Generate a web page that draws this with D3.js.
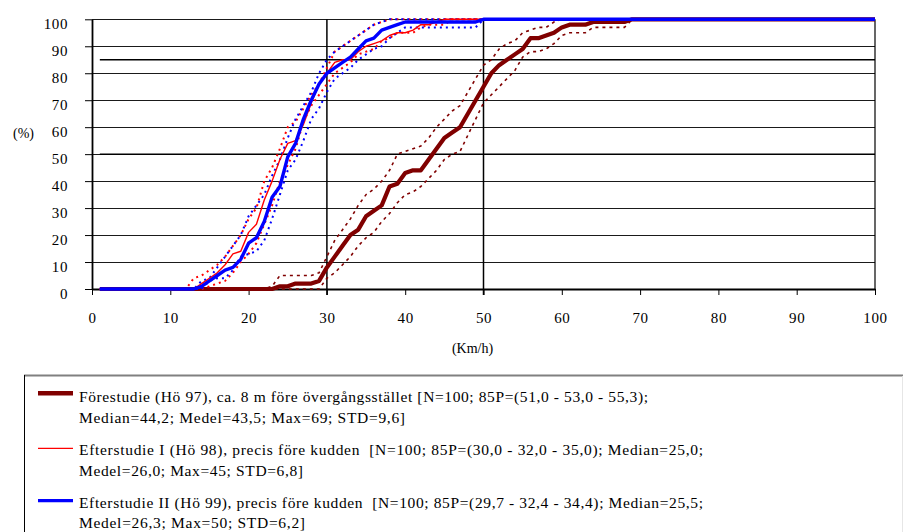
<!DOCTYPE html>
<html>
<head>
<meta charset="utf-8">
<script src="https://cdn.jsdelivr.net/npm/d3@7/dist/d3.min.js"></script>
<style>
  html, body { margin: 0; padding: 0; background: #fff; }
  svg { display: block; font-family: "Liberation Serif", "DejaVu Serif", serif; }
  text { fill: #000; }
</style>
</head>
<body>
<svg id="chart" width="903" height="532"></svg>
<script>
// ---------- data ----------
const speeds = [1,12,13,14,15,16,17,18,19,20,21,22,23,24,25,26,27,28,29,30,31,32,33,34,35,36,37,38,39,40,41,42,43,44,45,46,47,48,49,50,51,52,53,54,55,56,57,58,59,60,61,62,63,64,65,66,67,68,69,70,100];

// Förestudie (Hö 97)
const fore   = [0, 0,0,0,0,0,0,0,0,0,0,0,0, 1,1,2,2,2,3,8,12,16,20, 22,27,29,31,38,39,43,44,44,48, 52,56,58,60,65,70,75,80,83,85, 87,89,93,93,94,95,97,98,98,98, 99,99,99,99,99,100,100, 100];
const foreHi = [0, 0,0,0,0,0,0,0,0,0,0,0, 1, 5,5,5,5,5,6,12,18,22,26, 31,35,37,40,44,50,51,52,53,56, 60,63,66,68,73,78,83,85,89,91, 92,95,96,97,97,99,100,100,100,100, 100,100,100,100,100,100,100, 100];
const foreLo = [0, 0,0,0,0,0,0,0,0,0,0,0,0,0,0,0,0,0,0, 4,6,9,12,16,19,21,25,28,32, 35,36,38,41,44,48,50,51,57,63, 69,72,75,78,81,86,88,88,89,91, 94,95,95,95,97,97,97,97,97,100, 100, 100];

// Efterstudie I (Hö 98)
const e1   = [0, 0,0, 2,4,6,9,13,14,21,24,33,40, 48,54,55,61,69,76,80,84,85,85, 88,90,91,92,94,95,95,96,98,98, 99, 100,100,100,100,100,100,100,100,100,100,100,100,100,100,100,100,100,100,100,100,100,100,100,100,100,100, 100];
const e1Hi = [0, 0, 4,5,7,9,12,16,20,26,30,40, 45,52,60,62,67,72,76,82,88,90, 92,94,96,98,99, 100,100,100,100,100,100,100,100,100,100,100,100,100,100,100,100,100,100,100,100,100,100,100,100,100,100,100,100,100,100,100,100,100,100, 100];
const e1Lo = [0, 0,0,0, 1,2,3,6,10,13,17,24,31,40, 46,52,62,68,72,76,80,82,84,87, 88,89,92,93,95,95,95,97,98,98,98, 100,100,100,100,100,100,100,100,100,100,100,100,100,100,100,100,100,100,100,100,100,100,100,100,100, 100];

// Efterstudie II (Hö 99)
const e2   = [0, 0,0, 1,3,5,7,8,11,17,19,25,34, 38,49,54,63,70,76,80,82,84,86, 89,92,93,96,97,98, 99,99,99,99,99,99,99,99,99,99, 100,100,100,100,100,100,100,100,100,100,100,100,100,100,100,100,100,100,100,100,100, 100];
const e2Hi = [0, 0,0, 3,4,8,12,16,20,27,31,35,42, 48,56,63,68,73,80,85,88,90,92, 94,96,98,99, 100,100,100,100,100,100,100,100,100,100,100,100,100,100,100,100,100,100,100,100,100,100,100,100,100,100,100,100,100,100,100,100,100,100,100, 100];
const e2Lo = [0, 0,0,0, 3,4,4,7,12,13,14,18,26,35, 44,48,55,63,67,73,78,80,82,85, 87,89,90,93,95, 97,97,97,97,97,97,97,97,97,97, 100,100,100,100,100,100,100,100,100,100,100,100,100,100,100,100,100,100,100,100,100, 100];

const xTicks = [0,10,20,30,40,50,60,70,80,90,100];
const yTicks = [0,10,20,30,40,50,60,70,80,90,100];
const refPercents = [85, 50];
const refSpeeds = [30, 50];

const legendRows = [
  ["Förestudie (Hö 97), ca. 8 m före övergångsstället [N=100; 85P=(51,0 - 53,0 - 55,3);",
   "Median=44,2; Medel=43,5; Max=69; STD=9,6]"],
  ["Efterstudie I (Hö 98), precis före kudden  [N=100; 85P=(30,0 - 32,0 - 35,0); Median=25,0;",
   "Medel=26,0; Max=45; STD=6,8]"],
  ["Efterstudie II (Hö 99), precis före kudden  [N=100; 85P=(29,7 - 32,4 - 34,4); Median=25,5;",
   "Medel=26,3; Max=50; STD=6,2]"]
];

// ---------- layout ----------
const FONT = "'Liberation Serif', 'DejaVu Serif', serif";
const svg = d3.select("#chart");
const x = d3.scaleLinear().domain([0, 100]).range([92, 875]);
const y = d3.scaleLinear().domain([0, 100]).range([289, 19.3]);

// gridlines
svg.append("g")
  .attr("transform", "translate(92,0)")
  .call(d3.axisLeft(y).tickValues(yTicks).tickSize(-783).tickFormat(""))
  .call(g => g.select(".domain").remove())
  .call(g => g.selectAll("line").attr("stroke", "#1a1a1a").attr("stroke-width", 1).attr("shape-rendering", "crispEdges"));

// y axis with outward ticks + labels
const yAx = svg.append("g")
  .attr("transform", "translate(92,0)")
  .call(d3.axisLeft(y).tickValues(yTicks).tickSize(7).tickSizeOuter(0).tickPadding(17))
  .attr("font-family", FONT);
yAx.select(".domain").attr("stroke", "#000").attr("stroke-width", 1.8);
yAx.selectAll("line").attr("stroke", "#000");
yAx.selectAll("text").attr("font-size", 15).attr("dy", "0.6em").attr("letter-spacing", 0.6);

// right border
svg.append("line").attr("x1", x(100)).attr("x2", x(100)).attr("y1", y(100)).attr("y2", y(0))
  .attr("stroke", "#000").attr("stroke-width", 1.2);

// x axis
const xAx = svg.append("g")
  .attr("transform", `translate(0,${y(0)})`)
  .call(d3.axisBottom(x).tickValues(xTicks).tickSize(6).tickSizeOuter(0).tickPadding(17))
  .attr("font-family", FONT);
xAx.select(".domain").attr("stroke", "#000").attr("stroke-width", 2.2);
xAx.selectAll("line").attr("stroke", "#000");
xAx.selectAll("text").attr("font-size", 15).attr("letter-spacing", 0.6);

// reference lines
svg.append("g").selectAll("line").data(refSpeeds).join("line")
  .attr("x1", d => x(d)).attr("x2", d => x(d))
  .attr("y1", y(100)).attr("y2", y(0) + 6)
  .attr("stroke", "#000").attr("stroke-width", 1.5);
svg.append("g").selectAll("line").data(refPercents).join("line")
  .attr("x1", x(1)).attr("x2", x(100))
  .attr("y1", d => y(d)).attr("y2", d => y(d))
  .attr("stroke", "#000").attr("stroke-width", 1.5);

// axis titles
svg.append("text").attr("x", 23.5).attr("y", 137.5).attr("text-anchor", "middle")
  .attr("font-family", FONT).attr("font-size", 14).text("(%)");
svg.append("text").attr("x", 472.5).attr("y", 352.5).attr("text-anchor", "middle")
  .attr("font-family", FONT).attr("font-size", 14).text("(Km/h)");

// ---------- series ----------
const line = d3.line().x((d, i) => x(speeds[i])).y(d => y(d));
const series = [
  { v: foreHi, color: "#800000", w: 1.6, dash: "3,4" },
  { v: foreLo, color: "#800000", w: 1.6, dash: "3,4" },
  { v: fore,   color: "#800000", w: 4.2, dash: null },
  { v: e1Hi,   color: "#ff0000", w: 2,   dash: "2,4" },
  { v: e1Lo,   color: "#ff0000", w: 2,   dash: "2,4" },
  { v: e2Hi,   color: "#0000ff", w: 2,   dash: "2,4" },
  { v: e2Lo,   color: "#0000ff", w: 2,   dash: "2,4" },
  { v: e1,     color: "#ff0000", w: 1.4, dash: null },
  { v: e2,     color: "#0000ff", w: 3.4, dash: null }
];
svg.append("g").selectAll("path").data(series).join("path")
  .attr("d", d => line(d.v))
  .attr("fill", "none")
  .attr("stroke", d => d.color)
  .attr("stroke-width", d => d.w)
  .attr("stroke-dasharray", d => d.dash)
  .attr("stroke-linejoin", "round");

// ---------- legend ----------
const lg = svg.append("g").attr("font-family", FONT);
lg.append("line").attr("x1", 24).attr("x2", 903).attr("y1", 375.5).attr("y2", 375.5)
  .attr("stroke", "#808080").attr("stroke-width", 2);
lg.append("line").attr("x1", 24.5).attr("x2", 24.5).attr("y1", 375).attr("y2", 532)
  .attr("stroke", "#000").attr("stroke-width", 1);
lg.append("line").attr("x1", 902.5).attr("x2", 902.5).attr("y1", 376).attr("y2", 532)
  .attr("stroke", "#e6e6e6").attr("stroke-width", 1);

const legendStyle = [
  { color: "#800000", w: 4.5, ly: 393.3, base: 402, len: [569, 326] },
  { color: "#ff0000", w: 1.3, ly: 448.3, base: 455, len: [624, 224] },
  { color: "#0000ff", w: 3.2, ly: 500.7, base: 507.5, len: [624, 226] }
];
legendRows.forEach((rows, i) => {
  const s = legendStyle[i];
  lg.append("line").attr("x1", 38).attr("x2", 73).attr("y1", s.ly).attr("y2", s.ly)
    .attr("stroke", s.color).attr("stroke-width", s.w);
  rows.forEach((t, j) => {
    lg.append("text").attr("x", 79).attr("y", s.base + j * 20.7)
      .attr("font-size", 15.5)
      .style("white-space", "pre")
      .attr("textLength", s.len[j]).attr("lengthAdjust", "spacing")
      .text(t);
  });
});
</script>
</body>
</html>
